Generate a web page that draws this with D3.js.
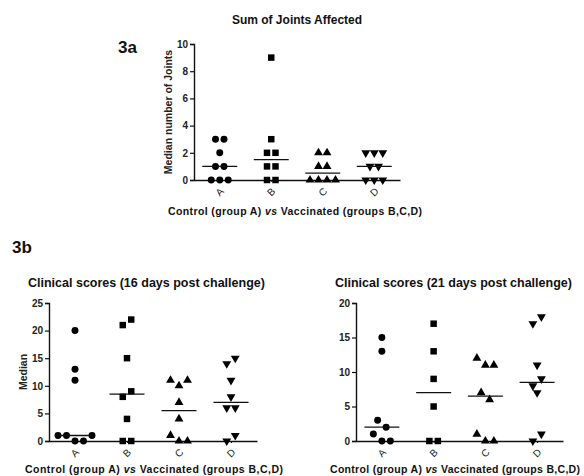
<!DOCTYPE html>
<html><head><meta charset="utf-8">
<script src="https://cdn.jsdelivr.net/npm/d3@7"></script>
<style>
body{margin:0;background:#fff;}
svg{display:block;font-family:"Liberation Sans",Arial,sans-serif;}
</style></head>
<body><svg id="c" width="584" height="476"></svg>
<script>
const categories = ["A","B","C","D"];
// Sum of joints affected (group A..D)
const jointsAffected = [
  [3,3,2,1,1,0,0,0],
  [9,3,2,2,1,1,0,0],
  [2,2,1,1,0,0,0,0],
  [2,2,2,1,1,0,0,0]
];
// Clinical scores, 16 days post challenge
const scores16 = [
  [20,13,11,1,1,0,0,1],
  [21,22,15,8,9,4,0,0],
  [11,10,11,7,4,1,0,0],
  [14,15,11,8,6,6,0,1]
];
// Clinical scores, 21 days post challenge
const scores21 = [
  [15,13,3,2,1,0,0],
  [17,13,9,5,0,0],
  [12,11,11,7,6,1,0,0],
  [17,18,11,8,9,7,0,1]
];
const yTicks3a = [0,2,4,6,8,10];
const yTicks16 = [0,5,10,15,20,25];
const yTicks21 = [0,5,10,15,20];
const symbols = ["circle","square","triangle","triangleDown"];

const svg = d3.select("#c");
const FONT = "'Liberation Sans',Arial,sans-serif";

function symPath(kind){
  if(kind==="circle") return d3.symbol(d3.symbolCircle, 38)();
  if(kind==="square") return d3.symbol(d3.symbolSquare, 42)();
  return d3.symbol(d3.symbolTriangle, 34)();
}

function drawPanel(o){
  const g = svg.append("g");
  const x = d3.scalePoint().domain(categories).range([o.x0, o.x1]).padding(0.5);
  const y = d3.scaleLinear().domain([0, o.yMax]).range([o.y0, o.y1]);
  const pxU = Math.abs(y(1)-y(0));
  const ya = g.append("g").attr("transform",`translate(${o.x0},0)`)
    .call(d3.axisLeft(y).tickValues(o.ticks).tickSize(4).tickPadding(2));
  ya.select(".domain").attr("stroke","#111").attr("stroke-width",1.4);
  ya.selectAll(".tick line").attr("stroke","#111").attr("stroke-width",1.2);
  ya.selectAll(".tick text").attr("font-family",FONT).attr("font-size",10).attr("font-weight","bold").attr("fill","#222");
  const xa = g.append("g").attr("transform",`translate(0,${o.y0})`)
    .call(d3.axisBottom(x).tickSize(2).tickSizeOuter(0).tickFormat(""));
  xa.select(".domain").attr("stroke","#111").attr("stroke-width",1.4);
  xa.selectAll(".tick line").attr("stroke","#111");
  g.selectAll("text.xl").data(categories).join("text").attr("class","xl")
    .attr("transform",d=>`translate(${x(d)},${o.y0+12}) rotate(-45)`)
    .attr("text-anchor","middle").attr("dominant-baseline","central")
    .attr("font-family",FONT).attr("font-size",10).attr("fill","#222").text(d=>d);
  o.data.forEach((vals,gi)=>{
    const cat = categories[gi];
    const idx = vals.map((v,i)=>({v,i})).sort((a,b)=>b.v-a.v || a.i-b.i);
    const clusters = [];
    let cur = null;
    idx.forEach(p=>{
      if(!cur || (cur.top - p.v)*pxU > 7.5){ cur = {top:p.v, pts:[]}; clusters.push(cur); }
      cur.pts.push(p);
    });
    const sp = 8.5;
    clusters.forEach(c=>{
      c.pts.sort((a,b)=>a.i-b.i);
      const n = c.pts.length;
      c.pts.forEach((p,k)=>{
        const dx = (k-(n-1)/2)*sp;
        const kind = symbols[gi];
        g.append("path").attr("d",symPath(kind))
          .attr("transform",`translate(${x(cat)+dx},${y(p.v)})${kind==="triangleDown"?" rotate(180)":""}`)
          .attr("fill","#000");
      });
    });
    const med = d3.median(vals);
    g.append("line").attr("x1",x(cat)-17.5).attr("x2",x(cat)+17.5)
      .attr("y1",y(med)).attr("y2",y(med)).attr("stroke","#111").attr("stroke-width",1.3);
  });
  g.append("text").attr("x",o.tx).attr("y",o.ty).attr("text-anchor",o.tAnchor||"middle")
    .attr("font-family",FONT).attr("font-size",o.tSize).attr("font-weight","bold").attr("fill","#111").text(o.title);
  if(o.ylabel){
    g.append("text").attr("transform",`translate(${o.ylx},${(o.y0+o.y1)/2}) rotate(-90)`)
      .attr("text-anchor","middle").attr("font-family",FONT).attr("font-size",10.5)
      .attr("font-weight","bold").attr("fill","#222").text(o.ylabel);
  }
  const xt = g.append("text").attr("x",o.xtx).attr("y",o.xty).attr("text-anchor","start")
    .attr("font-family",FONT).attr("font-size",10.5).attr("font-weight","bold").attr("fill","#111")
    .attr("textLength",o.xtw).attr("lengthAdjust","spacing");
  xt.append("tspan").text("Control (group A) ");
  xt.append("tspan").attr("font-style","italic").text("vs");
  xt.append("tspan").text(" Vaccinated (groups B,C,D)");
}

drawPanel({data:jointsAffected,x0:194,x1:400,y0:180,y1:44,yMax:10,ticks:yTicks3a,
  title:"Sum of Joints Affected",tx:297,ty:24,tSize:12,
  ylabel:"Median number of Joints",ylx:172,xtx:168,xty:215,xtw:254});
drawPanel({data:scores16,x0:49,x1:257,y0:441,y1:303,yMax:25,ticks:yTicks16,
  title:"Clinical scores (16 days post challenge)",tx:28,ty:287,tSize:12.5,tAnchor:"start",
  ylabel:"Median",ylx:27,xtx:25,xty:473,xtw:258});
drawPanel({data:scores21,x0:356,x1:563,y0:441,y1:303,yMax:20,ticks:yTicks21,
  title:"Clinical scores (21 days post challenge)",tx:335,ty:287,tSize:12.5,tAnchor:"start",
  xtx:330,xty:473,xtw:250});

svg.append("text").attr("x",118).attr("y",53).attr("font-family",FONT).attr("font-size",17)
  .attr("font-weight","bold").attr("fill","#111").text("3a");
svg.append("text").attr("x",12).attr("y",253).attr("font-family",FONT).attr("font-size",17)
  .attr("font-weight","bold").attr("fill","#111").text("3b");
</script></body></html>
